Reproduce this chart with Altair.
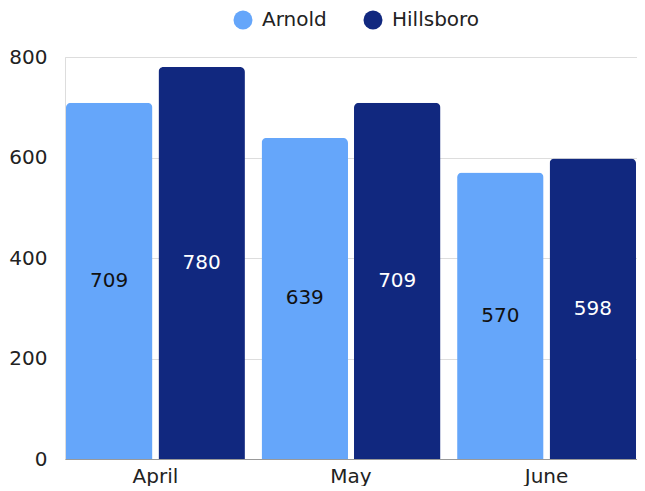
import altair as alt
import pandas as pd

months = ["April", "May", "June"]
series = ["Arnold", "Hillsboro"]
arnold = [709, 639, 570]
hillsboro = [780, 709, 598]
colors = ["#65A6FA", "#11287F"]
text_colors = ["#111111", "#FFFFFF"]

rows = []
for i, m in enumerate(months):
    rows.append({"month": m, "series": "Arnold", "value": arnold[i]})
    rows.append({"month": m, "series": "Hillsboro", "value": hillsboro[i]})
df = pd.DataFrame(rows)

FONT = "DejaVu Sans"

x = alt.X("month:N", sort=months, title=None,
          scale=alt.Scale(paddingInner=0.085, paddingOuter=0.005),
          axis=alt.Axis(labelAngle=0, labelFontSize=20, labelColor="#222222",
                        labelFont=FONT, ticks=False, domainColor="#999999",
                        labelPadding=7, grid=False))
xo = alt.XOffset("series:N", sort=series, scale=alt.Scale(paddingInner=0.065))
y = alt.Y("value:Q", title=None,
          scale=alt.Scale(domain=[0, 800]),
          axis=alt.Axis(values=[0, 200, 400, 600, 800], labelFontSize=20,
                        labelFont=FONT, labelColor="#222222", ticks=False,
                        domain=False, gridColor="#DDDDDD", labelPadding=18))

bars = alt.Chart(df).mark_bar(cornerRadiusTopLeft=5, cornerRadiusTopRight=5).encode(
    x=x, xOffset=xo, y=y,
    color=alt.Color("series:N", sort=series,
                    scale=alt.Scale(domain=series, range=colors),
                    legend=alt.Legend(title=None, orient="none", direction="horizontal",
                                      legendX=168, legendY=-47,
                                      symbolType="circle", symbolSize=360,
                                      symbolStrokeWidth=0,
                                      labelFontSize=20, labelFont=FONT,
                                      labelColor="#222222", labelOffset=9,
                                      columnPadding=36)),
)

labels = alt.Chart(df).mark_text(fontSize=20, font=FONT).encode(
    x=alt.X("month:N", sort=months),
    xOffset=alt.XOffset("series:N", sort=series),
    y=alt.Y("mid:Q"),
    text=alt.Text("value:Q"),
    color=alt.Color("series:N", sort=series,
                    scale=alt.Scale(domain=series, range=text_colors), legend=None),
).transform_calculate(mid="datum.value / 2")

chart = alt.layer(bars, labels).resolve_scale(color="independent").properties(
    width=572, height=402
).configure_view(stroke=None).configure(padding={"top": 2, "left": 0, "right": 0, "bottom": 0})

chart.save("out.html", embed_options={"renderer": "svg", "actions": False})
